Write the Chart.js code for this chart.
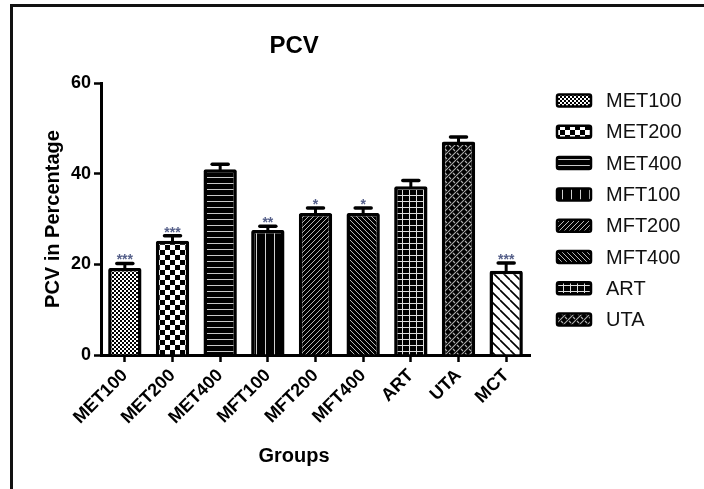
<!DOCTYPE html>
<html>
<head>
<meta charset="utf-8">
<title>PCV</title>
<script src="https://cdn.jsdelivr.net/npm/chart.js"></script>
<style>
  html, body { margin: 0; padding: 0; background: #fff; }
  #wrap { position: relative; width: 704px; height: 489px; overflow: hidden; }
  #frame { position: absolute; left: 10px; top: 4px; width: 720px; height: 520px;
           border-top: 3px solid #111; border-left: 3px solid #111; }
  #chart { position: absolute; left: 0; top: 0; }
</style>
</head>
<body>
<div id="wrap">
  <div id="frame"></div>
  <canvas id="chart" width="704" height="489"></canvas>
</div>
<script>
// Données
const groups = ['MET100', 'MET200', 'MET400', 'MFT100', 'MFT200', 'MFT400', 'ART', 'UTA', 'MCT'];
const pcvMean = [19.2, 25.2, 41.0, 27.6, 31.3, 31.3, 37.2, 47.1, 18.6];
const pcvSem = [1.0, 1.1, 1.1, 0.8, 1.1, 1.1, 1.3, 1.0, 1.7];
const signif = ['***', '***', '', '**', '*', '*', '', '', '***'];
const legendGroups = ['MET100', 'MET200', 'MET400', 'MFT100', 'MFT200', 'MFT400', 'ART', 'UTA'];
const yTicks = [0, 20, 40, 60];

const FONT = "'Liberation Sans', Arial, sans-serif";

// petits motifs de remplissage façon Prism
function makePattern(w, h, draw) {
    const c = document.createElement('canvas');
    c.width = w;
    c.height = h;
    const g = c.getContext('2d');
    draw(g, w, h);
    return g.createPattern(c, 'repeat');
}

function diag(g, w, h, dir, color, lw) {
    g.strokeStyle = color;
    g.lineWidth = lw;
    g.beginPath();
    for (let k = -1; k <= 1; k++) {
        if (dir > 0) {
            g.moveTo(k * w, h); g.lineTo(k * w + w, 0);
        } else {
            g.moveTo(k * w, 0); g.lineTo(k * w + w, h);
        }
    }
    g.stroke();
}

const patterns = {
    MET100: makePattern(4, 4, (g) => {
        g.fillStyle = '#fff'; g.fillRect(0, 0, 4, 4);
        g.fillStyle = '#000'; g.fillRect(0, 0, 2, 2); g.fillRect(2, 2, 2, 2);
    }),
    MET200: makePattern(10, 10, (g) => {
        g.fillStyle = '#fff'; g.fillRect(0, 0, 10, 10);
        g.fillStyle = '#000'; g.fillRect(0, 0, 5, 5); g.fillRect(5, 5, 5, 5);
    }),
    MET400: makePattern(6, 6, (g) => {
        g.fillStyle = '#000'; g.fillRect(0, 0, 6, 6);
        g.fillStyle = '#c8c8c8'; g.fillRect(0, 3, 6, 1);
    }),
    MFT100: makePattern(9, 6, (g) => {
        g.fillStyle = '#000'; g.fillRect(0, 0, 9, 6);
        g.fillStyle = '#d0d0d0'; g.fillRect(4, 0, 1, 6);
    }),
    MFT200: makePattern(5, 5, (g) => {
        g.fillStyle = '#000'; g.fillRect(0, 0, 5, 5);
        diag(g, 5, 5, 1, '#b8b8b8', 1);
    }),
    MFT400: makePattern(5, 5, (g) => {
        g.fillStyle = '#000'; g.fillRect(0, 0, 5, 5);
        diag(g, 5, 5, -1, '#b8b8b8', 1);
    }),
    ART: makePattern(7, 6, (g) => {
        g.fillStyle = '#000'; g.fillRect(0, 0, 7, 6);
        g.fillStyle = '#ddd'; g.fillRect(3, 0, 1, 6); g.fillRect(0, 3, 7, 1);
    }),
    UTA: makePattern(8, 8, (g) => {
        g.fillStyle = '#000'; g.fillRect(0, 0, 8, 8);
        diag(g, 8, 8, 1, '#b0b0b0', 1.1);
        g.strokeStyle = '#b0b0b0';
        g.beginPath();
        g.moveTo(1, 1); g.lineTo(3, 3);
        g.moveTo(5, 5); g.lineTo(7, 7);
        g.stroke();
    }),
    MCT: makePattern(10, 10, (g) => {
        g.fillStyle = '#fff'; g.fillRect(0, 0, 10, 10);
        diag(g, 10, 10, -1, '#000', 1.6);
    })
};

// barres d'erreur (SEM) + étoiles de significativité
const errorBars = {
    id: 'errorBars',
    afterDatasetsDraw(chart) {
        const { ctx, scales: { y } } = chart;
        const meta = chart.getDatasetMeta(0);
        ctx.save();
        ctx.strokeStyle = '#000';
        meta.data.forEach((bar, i) => {
            const x = bar.x;
            const top = y.getPixelForValue(pcvMean[i] + pcvSem[i]);
            ctx.lineWidth = 3;
            ctx.lineCap = 'butt';
            ctx.beginPath();
            ctx.moveTo(x, bar.y + 2);
            ctx.lineTo(x, top);
            ctx.stroke();
            ctx.lineWidth = 3.5;
            ctx.lineCap = 'round';
            ctx.beginPath();
            ctx.moveTo(x - 8, top);
            ctx.lineTo(x + 8, top);
            ctx.stroke();
            if (signif[i]) {
                ctx.fillStyle = '#56608a';
                ctx.font = 'bold 14px ' + FONT;
                ctx.textAlign = 'center';
                ctx.textBaseline = 'alphabetic';
                ctx.fillText(signif[i], x, top + 1);
            }
        });
        ctx.restore();
    }
};

// légende à droite + titres
const sideLegend = {
    id: 'sideLegend',
    afterDraw(chart) {
        const { ctx, chartArea } = chart;
        const x0 = chartArea.right + 27;
        ctx.save();
        legendGroups.forEach((name, k) => {
            const cy = chartArea.top + 17.5 + k * 31.3;
            ctx.beginPath();
            ctx.roundRect(x0, cy - 6, 34, 12, 2);
            ctx.fillStyle = patterns[name];
            ctx.fill();
            ctx.lineWidth = 2.5;
            ctx.strokeStyle = '#000';
            ctx.stroke();
            ctx.fillStyle = '#111';
            ctx.font = '20px ' + FONT;
            ctx.textAlign = 'left';
            ctx.textBaseline = 'middle';
            ctx.fillText(name, x0 + 49, cy + 1);
        });

        const cx = chartArea.left + 0.45 * (chartArea.right - chartArea.left);
        ctx.fillStyle = '#000';
        ctx.textAlign = 'center';
        ctx.textBaseline = 'middle';
        ctx.font = 'bold 24px ' + FONT;
        ctx.fillText('PCV', cx, chartArea.top - 37);
        ctx.font = 'bold 20px ' + FONT;
        ctx.fillText('Groups', cx, chartArea.bottom + 101);
        ctx.restore();
    }
};

const ctx = document.getElementById('chart').getContext('2d');
new Chart(ctx, {
    type: 'bar',
    data: {
        labels: groups,
        datasets: [{
            data: pcvMean,
            backgroundColor: groups.map(g => patterns[g]),
            borderColor: '#000',
            borderWidth: 3.5,
            borderRadius: 2,
            barPercentage: 0.7,
            categoryPercentage: 1
        }]
    },
    options: {
        responsive: false,
        animation: false,
        layout: { padding: { left: 41, top: 83, right: 174, bottom: 22 } },
        plugins: {
            legend: { display: false },
            title: { display: false },
            tooltip: { enabled: false }
        },
        scales: {
            x: {
                offset: true,
                grid: { display: true, drawOnChartArea: false, drawTicks: true, tickLength: 7,
                        tickColor: '#000', tickWidth: 2.5, offset: false },
                border: { display: true, color: '#000', width: 3 },
                ticks: { color: '#000', font: { family: FONT, size: 18, weight: 'bold' },
                         minRotation: 45, maxRotation: 45, padding: 3, autoSkip: false },
                afterFit: (s) => { s.height = 112; }
            },
            y: {
                min: 0,
                max: 60,
                afterBuildTicks: (s) => { s.ticks = yTicks.map(v => ({ value: v })); },
                grid: { display: true, drawOnChartArea: false, drawTicks: true, tickLength: 7,
                        tickColor: '#000', tickWidth: 2.5 },
                border: { display: true, color: '#000', width: 3 },
                ticks: { color: '#000', font: { family: FONT, size: 18, weight: 'bold' }, padding: 3 },
                title: { display: true, text: 'PCV in Percentage', color: '#000',
                         font: { family: FONT, size: 20, weight: 'bold' }, padding: 0 },
                afterFit: (s) => { s.width = 60; }
            }
        }
    },
    plugins: [errorBars, sideLegend]
});
</script>
</body>
</html>
